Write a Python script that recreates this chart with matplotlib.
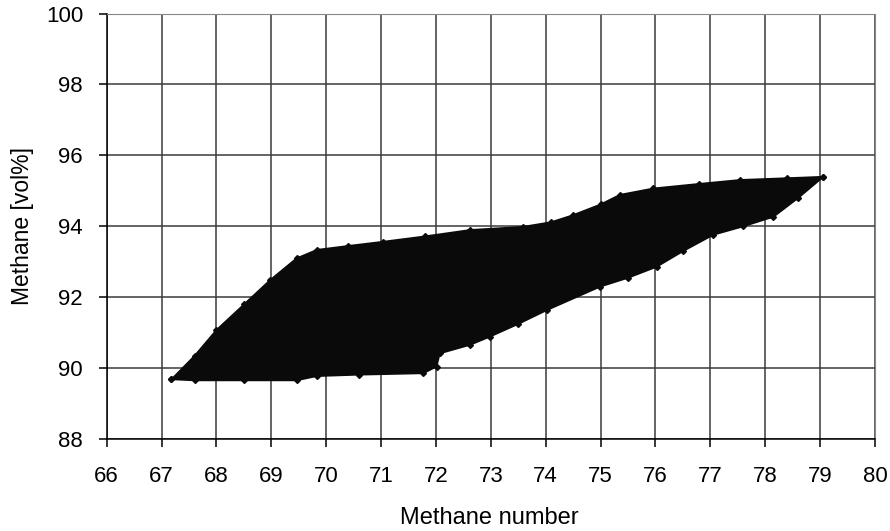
import matplotlib.pyplot as plt

plt.rcParams['font.family'] = ['Liberation Sans', 'DejaVu Sans']

# outline of the cloud of points
upper_x = [67.18, 67.6, 68.0, 68.5, 68.98, 69.46, 69.83, 70.4, 71.04, 71.8, 72.62, 73.59, 74.1, 74.50, 75.0, 75.35, 75.96, 76.8, 77.54, 78.4, 79.06]
upper_y = [89.69, 90.35, 91.08, 91.80, 92.49, 93.10, 93.34, 93.45, 93.57, 93.72, 93.90, 93.99, 94.12, 94.32, 94.62, 94.89, 95.07, 95.20, 95.31, 95.36, 95.40]
lower_x = [67.18, 67.6, 68.5, 69.46, 69.83, 70.6, 71.77, 72.01, 72.07, 72.62, 72.98, 73.5, 74.02, 74.99, 75.5, 76.02, 76.5, 77.05, 77.6, 78.15, 78.6, 79.06]
lower_y = [89.69, 89.66, 89.66, 89.66, 89.78, 89.82, 89.86, 90.05, 90.42, 90.66, 90.89, 91.25, 91.64, 92.30, 92.55, 92.86, 93.30, 93.76, 94.00, 94.27, 94.80, 95.40]

x_ticks = list(range(66, 81))
y_ticks = list(range(88, 101, 2))

fig = plt.figure(figsize=(8.9, 5.31), dpi=100)
ax = fig.add_axes([106.7 / 890, (531 - 439.3) / 531, (875 - 106.7) / 890, (439.3 - 13.5) / 531])

poly_x = upper_x + lower_x[::-1]
poly_y = upper_y + lower_y[::-1]
ax.fill(poly_x, poly_y, color='#0a0a0a', lw=1.2, zorder=3)
ax.plot(upper_x, upper_y, ls='none', marker='D', ms=3, color='#0a0a0a', zorder=3)
ax.plot(lower_x, lower_y, ls='none', marker='D', ms=3, color='#0a0a0a', zorder=3)

ax.set_xlim(66, 80)
ax.set_ylim(88, 100)
ax.set_xticks(x_ticks)
ax.set_yticks(y_ticks)
ax.grid(True, color='#3a3a3a', lw=1.1)
ax.set_axisbelow(True)
for s in ['top', 'right']:
    ax.spines[s].set_color('#888888')
for s in ['left', 'bottom']:
    ax.spines[s].set_color('black')
    ax.spines[s].set_linewidth(1.1)
ax.tick_params(direction='out', length=6, width=1.1, labelsize=16)
ax.tick_params(axis='x', pad=13)
ax.tick_params(axis='y', pad=11)

ax.set_xlabel('Methane number', fontsize=17)
ax.set_ylabel('Methane [vol%]', fontsize=16.5)
ax.xaxis.set_label_coords(0.4976, -0.185)
ax.yaxis.set_label_coords(-0.1096, 0.5)
ax.xaxis.label.set_va('center')
ax.yaxis.label.set_va('center')

fig.savefig('out.png', dpi=100)
